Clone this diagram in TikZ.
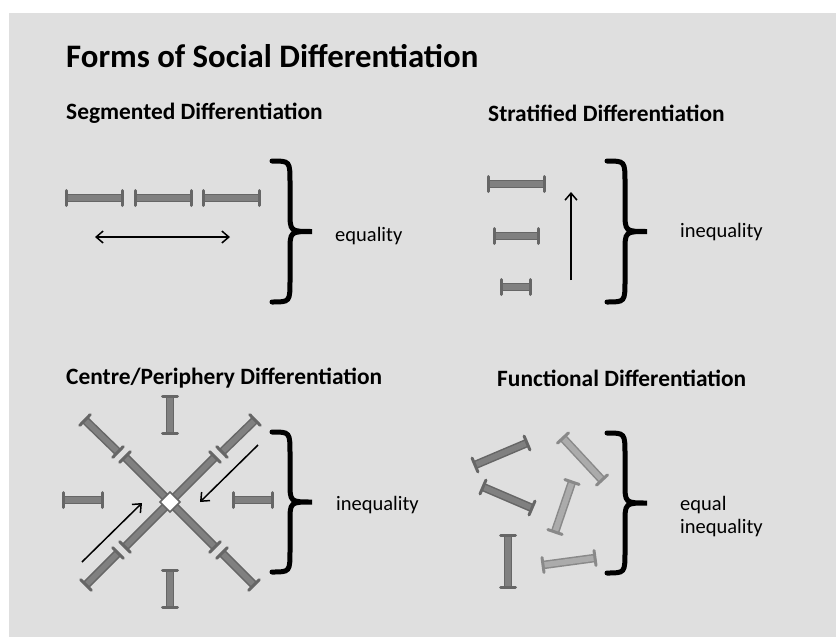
\documentclass[tikz,border=0pt]{standalone}
\usepackage{fontspec}
\setmainfont{Carlito}
\usetikzlibrary{calc,arrows.meta}

\definecolor{bggray}{HTML}{DFDFDF}
\definecolor{roddark}{HTML}{808080}
\definecolor{rodlight}{HTML}{ABABAB}

% a rod with a cap at each end
\newcommand{\rod}[3][roddark]{%
  \draw[line width=8.5pt, draw=#1!80!black] #2 -- #3;
  \draw[line width=5.5pt, draw=#1] #2 -- #3;
  \draw[capline, draw=#1!80!black] ($#2!7.5pt!90:#3$) -- ($#2!7.5pt!-90:#3$);
  \draw[capline, draw=#1!80!black] ($#3!7.5pt!90:#2$) -- ($#3!7.5pt!-90:#2$);
}
% a big curly brace: left x, top y, bottom y
\newcommand{\curly}[3]{%
  \draw[bracket] (#1,#2) .. controls ({#1+18},#2) .. ({#1+18},{#2+22})
    -- ({#1+18},{(#2+#3)/2-20}) .. controls ({#1+18},{(#2+#3)/2}) .. ({#1+40},{(#2+#3)/2})
    .. controls ({#1+18},{(#2+#3)/2}) .. ({#1+18},{(#2+#3)/2+20})
    -- ({#1+18},{#3-22}) .. controls ({#1+18},#3) .. (#1,#3);
}

\tikzset{
  tip/.tip={Straight Barb[length=7pt,width=12pt]},
  capline/.style={line width=3pt, line cap=round},
  bracket/.style={line width=5pt, line cap=round, black},
  pointer/.style={line width=1.5pt, -tip},
  twoway/.style={line width=1.5pt, tip-tip},
  heading/.style={anchor=west, inner sep=0pt, font=\fontsize{23.4}{27}\selectfont\bfseries},
  label/.style={anchor=west, inner sep=0pt, align=left, font=\fontsize{20.5}{23}\selectfont}
}

\begin{document}
\begin{tikzpicture}[x=1pt, y=-1pt]
  \fill[white] (0,0) rectangle (836,637);
  \fill[bggray] (9,13) rectangle (836,637);
  \useasboundingbox (0,0) rectangle (836,637);

  \node[anchor=west, inner sep=0pt, font=\fontsize{32.8}{36}\selectfont\bfseries] (title) at (66,56) {Forms of Social Differentiation};

  % segmented
  \node[heading] (segmented) at (66,113) {Segmented Differentiation};
  \rod{(66,198)}{(122,198)}
  \rod{(135,198)}{(191,198)}
  \rod{(203,198)}{(259,198)}
  \coordinate (sl) at (95,237);
  \coordinate (sr) at (230,237);
  \draw[twoway] (sl) -- (sr);
  \curly{272}{161}{302}
  \node[label] (equality) at (335,236) {equality};

  % stratified
  \node[heading] (stratified) at (488,113) {Stratified Differentiation};
  \rod{(488,184)}{(544,184)}
  \rod{(494,236)}{(538,236)}
  \rod{(501,287)}{(530,287)}
  \coordinate (up0) at (571,280);
  \coordinate (up1) at (571,192);
  \draw[pointer] (up0) -- (up1);
  \curly{607}{161}{302}
  \node[label] (inequality1) at (680,232) {inequality};

  % centre/periphery
  \node[heading] (centre) at (66,378) {Centre/Periphery Differentiation};
  \rod{(170,396)}{(170,433)}
  \rod{(170,570)}{(170,607)}
  \rod{(63,500)}{(102,500)}
  \rod{(233,500)}{(272,500)}
  \rod{(85,420)}{(118,452)}
  \rod{(255,420)}{(222,452)}
  \rod{(118,553)}{(86,585)}
  \rod{(222,553)}{(254,585)}
  \rod{(125,457)}{(215,547)}
  \rod{(215,457)}{(125,547)}
  \draw[fill=white, draw=roddark!80!black, line width=1.5pt] (170,492) -- (180,502) -- (170,512) -- (160,502) -- cycle;
  \coordinate (in0) at (82,562);
  \coordinate (in1) at (142,503);
  \coordinate (in2) at (258,445);
  \coordinate (in3) at (200,502);
  \draw[pointer] (in0) -- (in1);
  \draw[pointer] (in2) -- (in3);
  \curly{272}{432}{572}
  \node[label] (inequality2) at (336,505) {inequality};

  % functional
  \node[heading] (functional) at (497,378) {Functional Differentiation};
  \rod{(475,465)}{(527,443)}
  \rod[rodlight]{(563,438)}{(602,480)}
  \rod{(483,487)}{(532,508)}
  \rod[rodlight]{(572,482)}{(555,532)}
  \rod{(508,535)}{(508,587)}
  \rod[rodlight]{(543,565)}{(595,558)}
  \curly{607}{433}{573}
  \node[label] (equalineq) at (680,517) {equal\\inequality};
\end{tikzpicture}
\end{document}
